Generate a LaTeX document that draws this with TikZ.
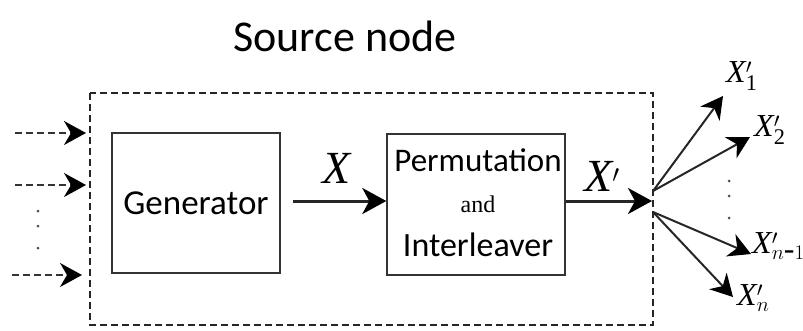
\documentclass[tikz,border=0pt]{standalone}
\usepackage{fontspec}
\setmainfont{Liberation Serif}
\newfontfamily\calib{Carlito}
\usetikzlibrary{arrows.meta}
\begin{document}
\begin{tikzpicture}[x=1pt,y=-1pt,
  bigtip/.style={-{Stealth[length=24pt,width=26pt,inset=7pt,black]}},
  midtip/.style={-{Stealth[length=22pt,width=24pt,inset=7pt,black]}},
  dashin/.style={dash pattern=on 7pt off 4pt,line width=1.6pt,black!80},
  lbl/.style={font=\fontsize{46}{46}\selectfont\itshape},
  outlbl/.style={font=\fontsize{32}{32}\selectfont\itshape,inner sep=0pt}]
\useasboundingbox (0,0) rectangle (803,330);

% title
\node[font=\calib\fontsize{44}{44}\selectfont] (title) at (345,36) {Source node};

% enclosing dashed frame
\draw[dash pattern=on 7pt off 4pt,line width=1.4pt,black!85] (90,93) rectangle (653,325);

% blocks
\node[draw=black!80,line width=1.4pt,minimum width=168pt,minimum height=140pt,inner sep=0pt,
      font=\calib\fontsize{35}{35}\selectfont] (gen) at (196,203) {Generator};
\node[draw=black!80,line width=1.4pt,minimum width=178pt,minimum height=141pt,inner sep=0pt] (perm) at (476,204.5) {};
\node[font=\calib\fontsize{33}{33}\selectfont] (pa) at (478,160) {Permutation};
\node[font=\fontsize{24}{24}\selectfont] (pb) at (478,204) {and};
\node[font=\calib\fontsize{34}{34}\selectfont] (pc) at (478,245) {Interleaver};

% internal signals
\coordinate (g1) at (293,201);
\coordinate (fan) at (652,201);
\draw[bigtip,line width=3pt,black!85] (g1) -- (perm.west |- g1);
\node[lbl] (xl) at (337,168) {X};
\draw[bigtip,line width=3pt,black!85] (perm.east |- g1) -- (fan);
\node[lbl] (xpl) at (602,176) {X$'$};

% inputs
\coordinate (i1s) at (15,133); \coordinate (i1e) at (86,133);
\coordinate (i2s) at (15,185); \coordinate (i2e) at (86,185);
\coordinate (i3s) at (12,275); \coordinate (i3e) at (82,275);
\draw[dashin,midtip] (i1s) -- (i1e);
\draw[dashin,midtip] (i2s) -- (i2e);
\draw[dashin,midtip] (i3s) -- (i3e);
\foreach \yy in {211,226,248} \fill[black!70] (38,\yy) circle (1.5pt);

% outputs
\coordinate (f1) at (653,191);
\coordinate (f2) at (653,212);
\coordinate (o1) at (723,96);
\coordinate (o2) at (750,137);
\coordinate (o3) at (751,254);
\coordinate (o4) at (733,297);
\draw[midtip,line width=2pt,black!85] (f1) -- (o1);
\draw[midtip,line width=2pt,black!85] (f1) -- (o2);
\draw[midtip,line width=2pt,black!85] (f2) -- (o3);
\draw[midtip,line width=2pt,black!85] (f2) -- (o4);
\node[outlbl,anchor=west] (n1) at (726,76) {X$'_{\mathrm{1}}$};
\node[outlbl,anchor=west] (n2) at (754,130) {X$'_{\mathrm{2}}$};
\node[outlbl,anchor=west] (n3) at (752,246) {X$'_{n\mbox{-}1}$};
\node[outlbl,anchor=west] (n4) at (737,298) {X$'_{n}$};
\foreach \yy in {181,196,218} \fill[black!70] (729,\yy) circle (1.5pt);
\end{tikzpicture}
\end{document}
